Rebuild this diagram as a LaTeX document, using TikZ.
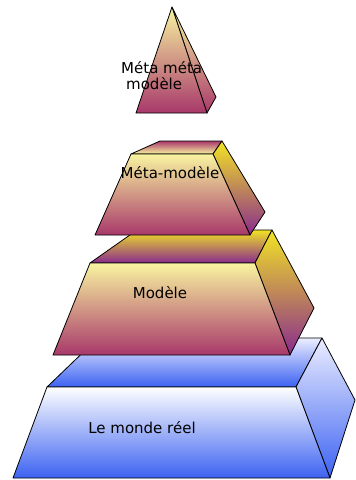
\documentclass[tikz,border=0pt]{standalone}
\usepackage{fontspec}
\setmainfont{DejaVu Sans}
\definecolor{pyel}{HTML}{F8F4A0}
\definecolor{pmid}{HTML}{E4C48A}
\definecolor{pmag}{HTML}{A8386A}
\definecolor{syel}{HTML}{F2E424}
\definecolor{spur}{HTML}{8A2A8E}
\definecolor{bblue}{HTML}{3C62F2}
\definecolor{bpale}{HTML}{ECEEFF}
\begin{document}
\begin{tikzpicture}[x=1pt,y=-1pt,
    front/.style={top color=pyel,middle color=pmid,bottom color=pmag},
    side/.style={top color=syel,bottom color=spur},
    bfront/.style={top color=white,bottom color=bblue},
    bside/.style={top color=bpale,bottom color=bblue},
    edge/.style={draw=black,line width=0.8pt,line join=round},
    lbl/.style={font=\fontsize{15}{17}\selectfont,inner sep=0pt}]
  \useasboundingbox (0,0) rectangle (356,480);
  % le monde reel
  \shade[bside,edge] (47,387) -- (98,338) -- (322,338) -- (296,387) -- cycle;
  \shade[bside,edge] (296,387) -- (322,338) -- (355,400) -- (330,478) -- cycle;
  \shade[bfront,edge] (47,387) -- (296,387) -- (330,478) -- (13,478) -- cycle;
  \node[lbl] (monde) at (142,428) {Le monde réel};
  % modele
  \shade[side,edge] (90,263) -- (137,230) -- (272,230) -- (255,263) -- cycle;
  \shade[side,edge] (255,263) -- (272,230) -- (314,308) -- (290,355) -- cycle;
  \shade[front,edge] (90,263) -- (255,263) -- (290,355) -- (53,355) -- cycle;
  \node[lbl] (modele) at (160,293) {Modèle};
  % meta-modele
  \shade[top color=pmag,bottom color=pyel,edge] (131,154) -- (160,141)
    -- (222,141) -- (213,154) -- cycle;
  \shade[side,edge] (213,154) -- (222,141) -- (265,212) -- (250,235) -- cycle;
  \shade[front,edge] (131,154) -- (213,154) -- (250,235) -- (95,235) -- cycle;
  \node[lbl] (metamodele) at (170,173) {Méta-modèle};
  % meta meta modele
  \shade[front,edge] (172,7) -- (216,97) -- (207,113) -- cycle;
  \shade[front,edge] (172,7) -- (207,113) -- (136,113) -- cycle;
  \node[lbl,align=left,anchor=north west] (metameta) at (121,61)
    {Méta méta\\[-1pt]\hspace*{5pt}modèle};
\end{tikzpicture}
\end{document}
